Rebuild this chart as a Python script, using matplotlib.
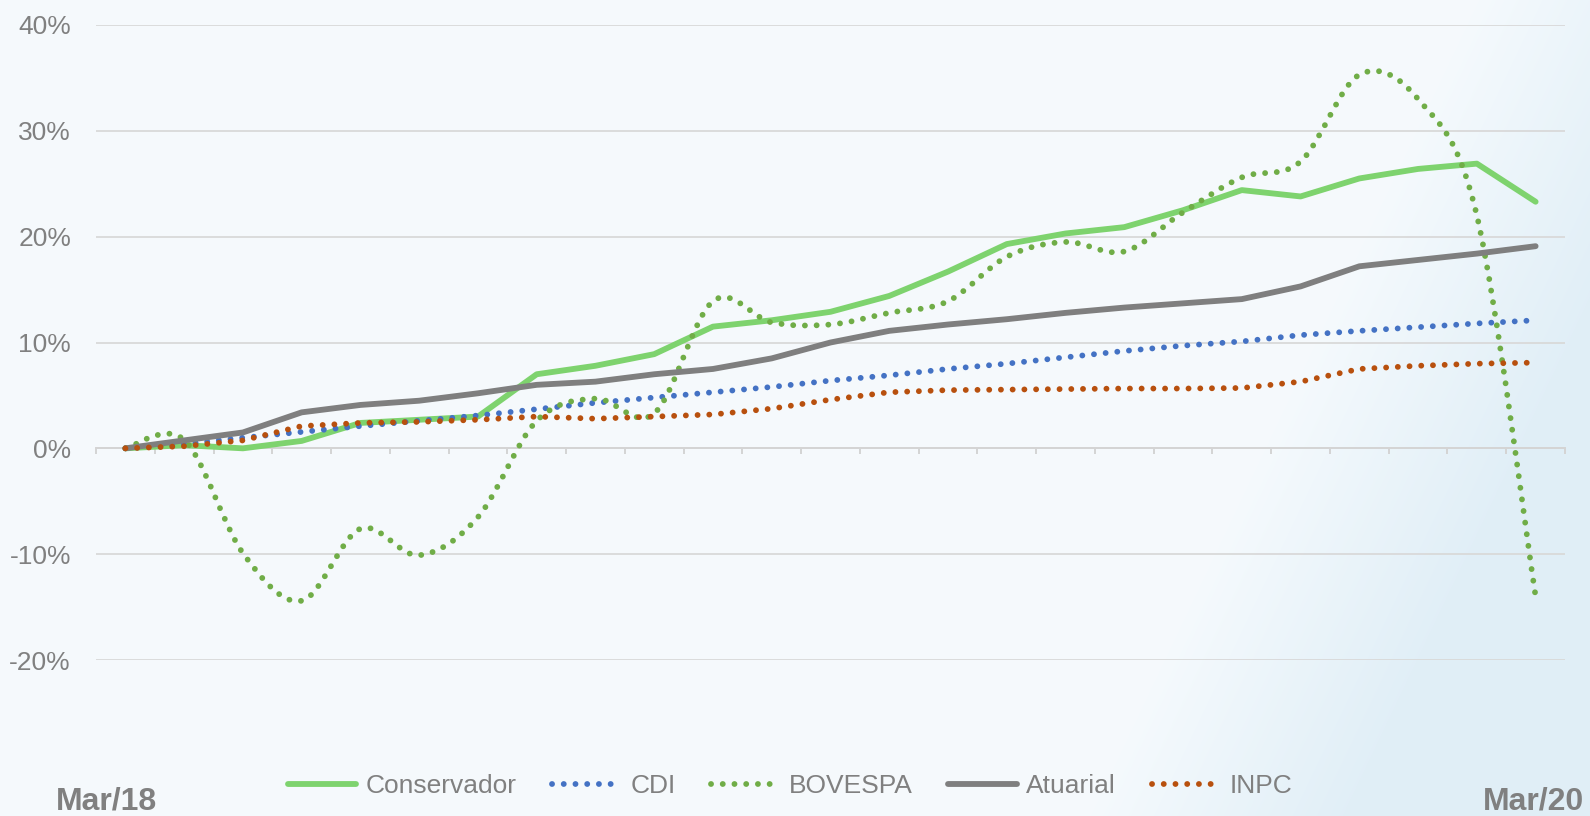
"""Retorno acumulado dos perfis vs. benchmarks, Mar/18 a Mar/20."""

import matplotlib

matplotlib.use("Agg")
import matplotlib.pyplot as plt
import numpy as np
from matplotlib.lines import Line2D
from matplotlib.patches import PathPatch
from matplotlib.path import Path

plt.rcParams["font.family"] = ["Liberation Sans", "DejaVu Sans"]

months = [
    "Mar/18", "Abr/18", "Mai/18", "Jun/18", "Jul/18", "Ago/18", "Set/18", "Out/18",
    "Nov/18", "Dez/18", "Jan/19", "Fev/19", "Mar/19", "Abr/19", "Mai/19", "Jun/19",
    "Jul/19", "Ago/19", "Set/19", "Out/19", "Nov/19", "Dez/19", "Jan/20", "Fev/20",
    "Mar/20",
]
conservador = [0.0, 0.3, 0.0, 0.7, 2.4, 2.7, 3.0, 7.0, 7.8, 8.9, 11.5, 12.1, 12.9,
               14.4, 16.7, 19.3, 20.3, 20.9, 22.5, 24.4, 23.8, 25.5, 26.4, 26.9, 23.3]
cdi = [0.0, 0.4, 1.0, 1.55, 2.1, 2.6, 3.1, 3.7, 4.3, 4.8, 5.3, 5.8, 6.4,
       6.9, 7.5, 8.0, 8.6, 9.2, 9.7, 10.1, 10.7, 11.1, 11.45, 11.8, 12.1]
bovespa = [0.0, 0.8, -9.9, -14.4, -7.6, -10.1, -6.5, 2.6, 4.7, 3.3, 13.9, 11.9, 11.7,
           12.8, 13.9, 18.1, 19.5, 18.6, 22.3, 25.6, 27.1, 35.3, 33.0, 22.0, -14.0]
atuarial = [0.0, 0.75, 1.5, 3.4, 4.1, 4.5, 5.2, 6.0, 6.3, 7.0, 7.5, 8.5, 10.0,
            11.1, 11.7, 12.2, 12.8, 13.3, 13.7, 14.1, 15.3, 17.2, 17.8, 18.4, 19.1]
inpc = [0.0, 0.2, 0.75, 2.1, 2.4, 2.5, 2.7, 3.0, 2.8, 3.0, 3.2, 3.75, 4.6,
        5.3, 5.5, 5.55, 5.6, 5.65, 5.65, 5.7, 6.3, 7.5, 7.8, 8.0, 8.1]
y_ticks = [-20, -10, 0, 10, 20, 30, 40]

GREEN_LIGHT = "#7ED36E"
GREEN = "#70AD47"
BLUE = "#4472C4"
GREY = "#7F7F7F"
BROWN = "#B8500E"
TEXT = "#808080"
LW = 4.2
DOTS = (0, (0.01, 2.0))


def smooth_path(xs, ys):
    """Excel-style smoothed line: Catmull-Rom through the points as cubic Beziers."""
    pts = np.column_stack([xs, ys]).astype(float)
    n = len(pts)
    verts = [pts[0]]
    codes = [Path.MOVETO]
    for i in range(n - 1):
        p_prev = pts[max(i - 1, 0)]
        p_next2 = pts[min(i + 2, n - 1)]
        c1 = pts[i] + (pts[i + 1] - p_prev) / 6.0
        c2 = pts[i + 1] - (p_next2 - pts[i]) / 6.0
        verts += [c1, c2, pts[i + 1]]
        codes += [Path.CURVE4] * 3
    return Path(verts, codes)


fig = plt.figure(figsize=(15.9, 8.16), dpi=100)

# pale background with a faint blue swoosh at the right edge
bg = fig.add_axes([0, 0, 1, 1], zorder=-10)
gx, gy = np.meshgrid(np.arange(1590), np.arange(816))
nx, ny = 756.0, 360.0  # normal of the line (1590, 60) -> (1230, 816)
d = ((gx - 1590) * nx + (gy - 60) * ny) / np.hypot(nx, ny)
t = np.clip((d + 130) / 240.0, 0, 1) * 0.9
base = np.array([0.962, 0.980, 0.992])
tint = np.array([0.870, 0.930, 0.965])
img = base[None, None, :] * (1 - t[..., None]) + tint[None, None, :] * t[..., None]
bg.imshow(img, aspect="auto", interpolation="bilinear")
bg.axis("off")

ax = fig.add_axes([96 / 1590, 1 - 660 / 816, (1565 - 96) / 1590, (660 - 25) / 816])
ax.patch.set_alpha(0)
x = np.arange(len(months))

ax.plot(x, conservador, color=GREEN_LIGHT, lw=LW, solid_capstyle="round",
        solid_joinstyle="round", zorder=3)
ax.plot(x, cdi, color=BLUE, lw=LW, linestyle=DOTS, dash_capstyle="round", zorder=4)
ax.add_patch(PathPatch(smooth_path(x, bovespa), fill=False, edgecolor=GREEN, lw=LW,
                       linestyle=DOTS, capstyle="round", zorder=5))
ax.plot(x, atuarial, color=GREY, lw=LW, solid_capstyle="round",
        solid_joinstyle="round", zorder=6)
ax.plot(x, inpc, color=BROWN, lw=LW, linestyle=DOTS, dash_capstyle="round", zorder=7)

ax.set_xlim(-0.5, len(months) - 0.5)
ax.set_ylim(-20, 40)
ax.set_yticks(y_ticks)
ax.set_yticklabels([f"{v}%" for v in y_ticks], fontsize=19, color=TEXT)
ax.tick_params(axis="y", length=0, pad=18)
ax.set_xticks(np.arange(-0.5, len(months), 1.0))
ax.set_xticklabels([])
ax.tick_params(axis="x", direction="out", length=4, width=1.4, color="#D4D4D4")
ax.grid(axis="y", color="#D9D9D9", lw=1.3, zorder=0)
for side in ["left", "right", "top"]:
    ax.spines[side].set_visible(False)
ax.spines["bottom"].set_position(("data", 0))
ax.spines["bottom"].set_color("#D4D4D4")
ax.spines["bottom"].set_linewidth(1.4)

handles = [
    Line2D([], [], color=GREEN_LIGHT, lw=LW, solid_capstyle="round"),
    Line2D([], [], color=BLUE, lw=LW, linestyle=DOTS, dash_capstyle="round"),
    Line2D([], [], color=GREEN, lw=LW, linestyle=DOTS, dash_capstyle="round"),
    Line2D([], [], color=GREY, lw=LW, solid_capstyle="round"),
    Line2D([], [], color=BROWN, lw=LW, linestyle=DOTS, dash_capstyle="round"),
]
names = ["Conservador", "CDI", "BOVESPA", "Atuarial", "INPC"]
fig.legend(handles, names, loc="center", bbox_to_anchor=(790 / 1590, 1 - 786 / 816),
           ncol=5, frameon=False, fontsize=19, labelcolor=TEXT, handlelength=2.6,
           handletextpad=0.35, columnspacing=1.35, borderpad=0)

fig.text(56 / 1590, 6 / 816, months[0], ha="left", va="baseline", fontsize=23,
         fontweight="bold", color=TEXT)
fig.text(1584 / 1590, 6 / 816, months[-1], ha="right", va="baseline", fontsize=23,
         fontweight="bold", color=TEXT)

fig.savefig("out.png", dpi=100)
